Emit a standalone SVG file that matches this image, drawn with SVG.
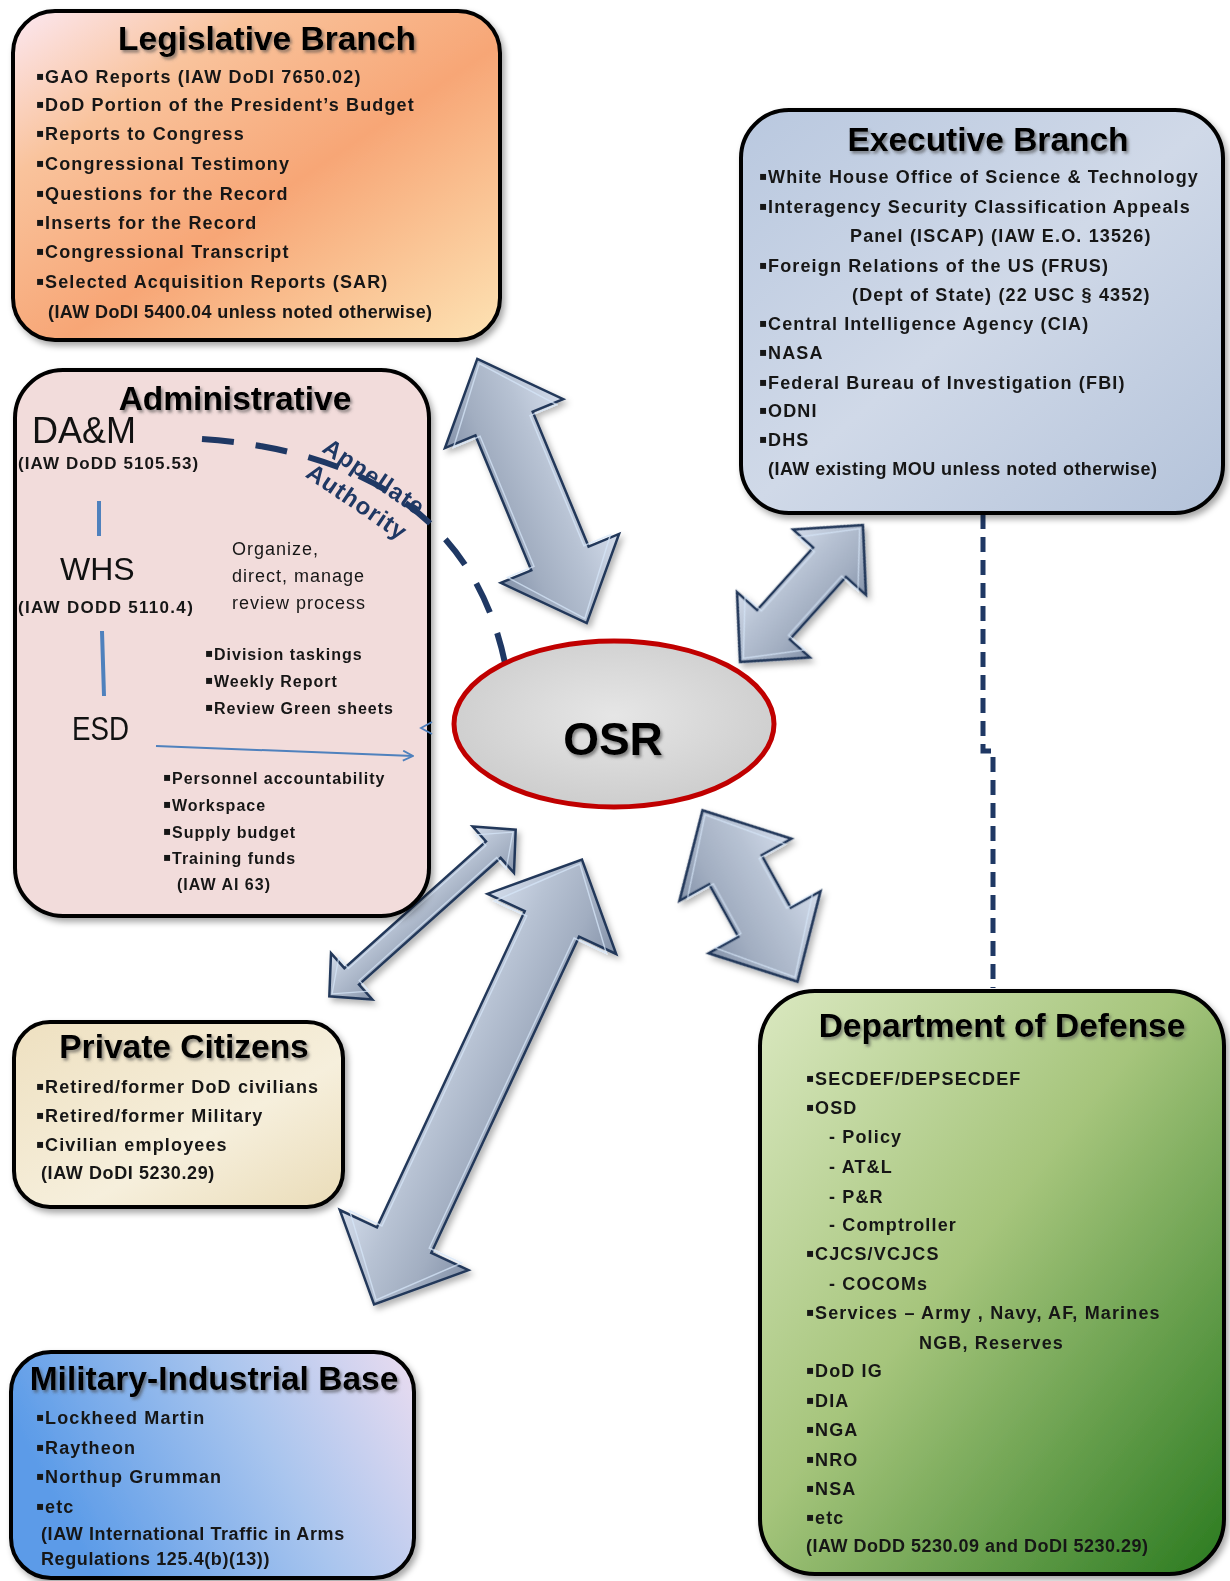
<svg xmlns="http://www.w3.org/2000/svg" width="1230" height="1581" viewBox="0 0 1230 1581">
  <defs>
    <style>
      .box { stroke: #000; stroke-width: 4; filter: url(#boxShadow); }
      .title { font-family: "Liberation Sans", Arial, sans-serif; font-weight: bold; font-size: 33.5px; text-anchor: middle; fill: #000; filter: url(#textShadow); }
      .it { font-family: "Liberation Sans", Arial, sans-serif; font-weight: bold; font-size: 18px; letter-spacing: 1.15px; fill: #161616; }
      .sm { font-family: "Liberation Sans", Arial, sans-serif; font-weight: bold; font-size: 16px; letter-spacing: 1px; fill: #161616; }
      .rg { font-family: "Liberation Sans", Arial, sans-serif; font-size: 18px; letter-spacing: 1px; fill: #161616; }
      .big { font-family: "Liberation Sans", Arial, sans-serif; font-size: 33px; fill: #111; }
      .bl { font-family: "DejaVu Sans", sans-serif; font-size: 12px; }
      .arrow { fill: url(#arrowFill); stroke: #23385a; stroke-width: 2.5; stroke-linejoin: miter; }
      .arrows { filter: url(#arrowShadow); }
      .bevel { fill: none; stroke: #d6e5f8; stroke-width: 1.6; opacity: 0.75; }
      .navyDash { fill: none; stroke: #1f3864; stroke-width: 6; }
      .blueLine { fill: none; stroke: #4f81bd; }
      .appl { font-family: "Liberation Sans", Arial, sans-serif; font-weight: bold; font-size: 24px; letter-spacing: 1px; fill: #1f3864; text-anchor: middle; }
    </style>
    <filter id="boxShadow" x="-10%" y="-10%" width="125%" height="125%">
      <feDropShadow dx="3" dy="4" stdDeviation="3" flood-color="#000" flood-opacity="0.35"/>
    </filter>
    <filter id="textShadow" x="-5%" y="-20%" width="115%" height="150%">
      <feDropShadow dx="2" dy="2.5" stdDeviation="1.5" flood-color="#444" flood-opacity="0.6"/>
    </filter>
    <filter id="arrowShadow" x="-20%" y="-20%" width="150%" height="150%">
      <feDropShadow dx="3" dy="4" stdDeviation="3" flood-color="#000" flood-opacity="0.3"/>
    </filter>
    <linearGradient id="legFill" x1="0" y1="0" x2="1" y2="1">
      <stop offset="0" stop-color="#fce8f2"/>
      <stop offset="0.25" stop-color="#f9c39c"/>
      <stop offset="0.55" stop-color="#f7a676"/>
      <stop offset="1" stop-color="#fde3b4"/>
    </linearGradient>
    <linearGradient id="exeFill" x1="0" y1="0" x2="1" y2="1">
      <stop offset="0" stop-color="#b9c8df"/>
      <stop offset="0.5" stop-color="#d0d9e8"/>
      <stop offset="1" stop-color="#b4c3da"/>
    </linearGradient>
    <linearGradient id="pcFill" x1="0" y1="0" x2="1" y2="1">
      <stop offset="0" stop-color="#eee0c0"/>
      <stop offset="0.6" stop-color="#f6efdc"/>
      <stop offset="1" stop-color="#eadcb8"/>
    </linearGradient>
    <linearGradient id="mibFill" x1="0" y1="0.3" x2="1" y2="0">
      <stop offset="0" stop-color="#5b9be8"/>
      <stop offset="0.55" stop-color="#a9c5ee"/>
      <stop offset="1" stop-color="#eadcf0"/>
    </linearGradient>
    <linearGradient id="dodFill" x1="0" y1="0" x2="1" y2="1">
      <stop offset="0" stop-color="#dae8c0"/>
      <stop offset="0.45" stop-color="#a6c57c"/>
      <stop offset="1" stop-color="#2a7a1f"/>
    </linearGradient>
    <radialGradient id="osrFill" cx="0.5" cy="0.45" r="0.6">
      <stop offset="0" stop-color="#e6e6e6"/>
      <stop offset="1" stop-color="#cbcbcb"/>
    </radialGradient>
    <linearGradient id="arrowFill" x1="0" y1="0" x2="0" y2="1">
      <stop offset="0" stop-color="#d3dceb"/>
      <stop offset="0.35" stop-color="#b7c2d3"/>
      <stop offset="0.7" stop-color="#a2aec1"/>
      <stop offset="1" stop-color="#8593aa"/>
    </linearGradient>
    <marker id="openHead" viewBox="0 0 12 12" refX="11" refY="6" markerWidth="12" markerHeight="12" markerUnits="userSpaceOnUse" orient="auto">
      <path d="M1,1 L11,6 L1,11" fill="none" stroke="#4f81bd" stroke-width="1.8"/>
    </marker>
  </defs>

  <rect width="1230" height="1581" fill="#fff"/>

  <!-- connectors: double-headed block arrows and dashed lines -->
  <g id="connectors">
    <g class="arrows">
      <g transform="translate(532,491) rotate(67.5)">
        <polygon class="arrow" points="-143,0 -73,-64 -73,-31 73,-31 73,-64 143,0 73,64 73,31 -73,31 -73,64"/>
        <polygon class="bevel" transform="scale(0.965,0.87)" points="-143,0 -73,-64 -73,-31 73,-31 73,-64 143,0 73,64 73,31 -73,31 -73,64"/>
      </g>
      <g transform="translate(801.5,593.5) rotate(-48.1)">
        <polygon class="arrow" points="-92,0 -42,-49 -42,-22 42,-22 42,-49 92,0 42,49 42,22 -42,22 -42,49"/>
        <polygon class="bevel" transform="scale(0.946,0.82)" points="-92,0 -42,-49 -42,-22 42,-22 42,-49 92,0 42,49 42,22 -42,22 -42,49"/>
      </g>
      <g transform="translate(422.5,913) rotate(-41.8)">
        <polygon class="arrow" points="-125,0 -95,-31 -95,-11 95,-11 95,-31 125,0 95,31 95,11 -95,11 -95,31"/>
        <polygon class="bevel" transform="scale(0.97,0.73)" points="-125,0 -95,-31 -95,-11 95,-11 95,-31 125,0 95,31 95,11 -95,11 -95,31"/>
      </g>
      <g transform="translate(478,1082) rotate(-64.95)">
        <polygon class="arrow" points="-245.5,0 -174.5,-71 -174.5,-30 174.5,-30 174.5,-71 245.5,0 174.5,71 174.5,30 -174.5,30 -174.5,71"/>
        <polygon class="bevel" transform="scale(0.98,0.87)" points="-245.5,0 -174.5,-71 -174.5,-30 174.5,-30 174.5,-71 245.5,0 174.5,71 174.5,30 -174.5,30 -174.5,71"/>
      </g>
      <g transform="translate(750,896) rotate(61)">
        <polygon class="arrow" points="-98,0 -30,-64 -30,-30 30,-30 30,-64 98,0 30,64 30,30 -30,30 -30,64"/>
        <polygon class="bevel" transform="scale(0.947,0.87)" points="-98,0 -30,-64 -30,-30 30,-30 30,-64 98,0 30,64 30,30 -30,30 -30,64"/>
      </g>
    </g>
    <!-- Executive to DoD dashed link -->
    <path class="navyDash" d="M983,514 V751 H993 V988" style="stroke-width:5px" stroke-dasharray="15 8"/>
  </g>

  <g id="legislative">
    <rect class="box" x="13" y="11" width="487" height="329" rx="42" fill="url(#legFill)"/>
    <text class="title" x="267" y="50">Legislative Branch</text>
    <text class="it" x="36" y="83"><tspan class="bl" dy="-3">▪</tspan><tspan x="45" dy="3">GAO Reports (IAW DoDI 7650.02)</tspan></text>
    <text class="it" x="36" y="111"><tspan class="bl" dy="-3">▪</tspan><tspan x="45" dy="3">DoD Portion of the President’s Budget</tspan></text>
    <text class="it" x="36" y="140"><tspan class="bl" dy="-3">▪</tspan><tspan x="45" dy="3">Reports to Congress</tspan></text>
    <text class="it" x="36" y="170"><tspan class="bl" dy="-3">▪</tspan><tspan x="45" dy="3">Congressional Testimony</tspan></text>
    <text class="it" x="36" y="200"><tspan class="bl" dy="-3">▪</tspan><tspan x="45" dy="3">Questions for the Record</tspan></text>
    <text class="it" x="36" y="229"><tspan class="bl" dy="-3">▪</tspan><tspan x="45" dy="3">Inserts for the Record</tspan></text>
    <text class="it" x="36" y="258"><tspan class="bl" dy="-3">▪</tspan><tspan x="45" dy="3">Congressional Transcript</tspan></text>
    <text class="it" x="36" y="288"><tspan class="bl" dy="-3">▪</tspan><tspan x="45" dy="3">Selected Acquisition Reports (SAR)</tspan></text>
    <text class="it" x="48" y="318" style="letter-spacing:0.4px">(IAW DoDI 5400.04 unless noted otherwise)</text>
  </g>

  <g id="executive">
    <rect class="box" x="741" y="110" width="482" height="403" rx="48" fill="url(#exeFill)"/>
    <text class="title" x="988" y="151">Executive Branch</text>
    <text class="it" x="759" y="183"><tspan class="bl" dy="-3">▪</tspan><tspan x="768" dy="3">White House Office of Science &amp; Technology</tspan></text>
    <text class="it" x="759" y="213"><tspan class="bl" dy="-3">▪</tspan><tspan x="768" dy="3">Interagency Security Classification Appeals</tspan></text>
    <text class="it" x="850" y="242">Panel (ISCAP) (IAW E.O. 13526)</text>
    <text class="it" x="759" y="272"><tspan class="bl" dy="-3">▪</tspan><tspan x="768" dy="3">Foreign Relations of the US (FRUS)</tspan></text>
    <text class="it" x="852" y="301">(Dept of State) (22 USC § 4352)</text>
    <text class="it" x="759" y="330"><tspan class="bl" dy="-3">▪</tspan><tspan x="768" dy="3">Central Intelligence Agency (CIA)</tspan></text>
    <text class="it" x="759" y="359"><tspan class="bl" dy="-3">▪</tspan><tspan x="768" dy="3">NASA</tspan></text>
    <text class="it" x="759" y="389"><tspan class="bl" dy="-3">▪</tspan><tspan x="768" dy="3">Federal Bureau of Investigation (FBI)</tspan></text>
    <text class="it" x="759" y="417"><tspan class="bl" dy="-3">▪</tspan><tspan x="768" dy="3">ODNI</tspan></text>
    <text class="it" x="759" y="446"><tspan class="bl" dy="-3">▪</tspan><tspan x="768" dy="3">DHS</tspan></text>
    <text class="it" x="768" y="475" style="letter-spacing:0.45px">(IAW existing MOU unless noted otherwise)</text>
  </g>

  <g id="administrative">
    <rect class="box" x="15" y="370" width="414" height="546" rx="48" fill="#f2dcdb"/>
    <text class="title" x="235" y="410">Administrative</text>
    <text class="big" x="32" y="443" style="font-size:36px">DA&amp;M</text>
    <text class="sm" x="18" y="469" style="font-size:17px;letter-spacing:1.1px">(IAW DoDD 5105.53)</text>
    <text class="big" x="60" y="580" style="font-size:32px">WHS</text>
    <text class="sm" x="18" y="613" style="font-size:17px;letter-spacing:1.3px">(IAW DODD 5110.4)</text>
    <text class="big" x="72" y="740" style="font-size:33px" textLength="57" lengthAdjust="spacingAndGlyphs">ESD</text>
    <line class="blueLine" x1="99" y1="501" x2="99" y2="536" stroke-width="4"/>
    <line class="blueLine" x1="102" y1="631" x2="104" y2="696" stroke-width="4"/>
    <text class="rg" x="232" y="555">Organize,</text>
    <text class="rg" x="232" y="582">direct, manage</text>
    <text class="rg" x="232" y="609">review process</text>
    <text class="sm" x="205" y="660"><tspan class="bl" dy="-3">▪</tspan><tspan x="214" dy="3">Division taskings</tspan></text>
    <text class="sm" x="205" y="687"><tspan class="bl" dy="-3">▪</tspan><tspan x="214" dy="3">Weekly Report</tspan></text>
    <text class="sm" x="205" y="714"><tspan class="bl" dy="-3">▪</tspan><tspan x="214" dy="3">Review Green sheets</tspan></text>
    <line class="blueLine" x1="156" y1="746" x2="413" y2="756" stroke-width="2" marker-end="url(#openHead)"/>
    <polyline class="blueLine" points="432,722 421,728 432,734" stroke-width="1.8"/>
    <text class="sm" x="163" y="784"><tspan class="bl" dy="-3">▪</tspan><tspan x="172" dy="3">Personnel accountability</tspan></text>
    <text class="sm" x="163" y="811"><tspan class="bl" dy="-3">▪</tspan><tspan x="172" dy="3">Workspace</tspan></text>
    <text class="sm" x="163" y="838"><tspan class="bl" dy="-3">▪</tspan><tspan x="172" dy="3">Supply budget</tspan></text>
    <text class="sm" x="163" y="864"><tspan class="bl" dy="-3">▪</tspan><tspan x="172" dy="3">Training funds</tspan></text>
    <text class="sm" x="177" y="890">(IAW AI 63)</text>
  </g>

  <!-- appellate authority link from DA&M to OSR -->
  <g id="appellate">
    <path class="navyDash" d="M202,439 C343,449 474,504 506,668" stroke-dasharray="32 22"/>
    <text class="appl" transform="translate(374,477) rotate(34)" y="8">Appellate</text>
    <text class="appl" transform="translate(357,502) rotate(34)" y="8">Authority</text>
  </g>

  <g id="osr">
    <ellipse cx="614" cy="724" rx="160" ry="83" fill="url(#osrFill)" stroke="#c00000" stroke-width="5"/>
    <text x="613" y="755" text-anchor="middle" font-family="Liberation Sans, Arial, sans-serif" font-weight="bold" font-size="46" fill="#000" filter="url(#textShadow)">OSR</text>
  </g>

  <g id="private-citizens">
    <rect class="box" x="14" y="1022" width="329" height="185" rx="36" fill="url(#pcFill)"/>
    <text class="title" x="184" y="1058">Private Citizens</text>
    <text class="it" x="36" y="1093"><tspan class="bl" dy="-3">▪</tspan><tspan x="45" dy="3">Retired/former DoD civilians</tspan></text>
    <text class="it" x="36" y="1122"><tspan class="bl" dy="-3">▪</tspan><tspan x="45" dy="3">Retired/former Military</tspan></text>
    <text class="it" x="36" y="1151"><tspan class="bl" dy="-3">▪</tspan><tspan x="45" dy="3">Civilian employees</tspan></text>
    <text class="it" x="41" y="1179" style="letter-spacing:0.6px">(IAW DoDI 5230.29)</text>
  </g>

  <g id="military-industrial-base">
    <rect class="box" x="11" y="1352" width="403" height="226" rx="40" fill="url(#mibFill)"/>
    <text class="title" x="214" y="1390">Military-Industrial Base</text>
    <text class="it" x="36" y="1424"><tspan class="bl" dy="-3">▪</tspan><tspan x="45" dy="3">Lockheed Martin</tspan></text>
    <text class="it" x="36" y="1454"><tspan class="bl" dy="-3">▪</tspan><tspan x="45" dy="3">Raytheon</tspan></text>
    <text class="it" x="36" y="1483"><tspan class="bl" dy="-3">▪</tspan><tspan x="45" dy="3">Northup Grumman</tspan></text>
    <text class="it" x="36" y="1513"><tspan class="bl" dy="-3">▪</tspan><tspan x="45" dy="3">etc</tspan></text>
    <text class="it" x="41" y="1540" style="letter-spacing:0.6px">(IAW International Traffic in Arms</text>
    <text class="it" x="41" y="1565" style="letter-spacing:0.6px">Regulations 125.4(b)(13))</text>
  </g>

  <g id="department-of-defense">
    <rect class="box" x="760" y="991" width="464" height="583" rx="55" fill="url(#dodFill)"/>
    <text class="title" x="1002" y="1037">Department of Defense</text>
    <text class="it" x="806" y="1085"><tspan class="bl" dy="-3">▪</tspan><tspan x="815" dy="3">SECDEF/DEPSECDEF</tspan></text>
    <text class="it" x="806" y="1114"><tspan class="bl" dy="-3">▪</tspan><tspan x="815" dy="3">OSD</tspan></text>
    <text class="it" x="829" y="1143">- Policy</text>
    <text class="it" x="829" y="1173">- AT&amp;L</text>
    <text class="it" x="829" y="1203">- P&amp;R</text>
    <text class="it" x="829" y="1231">- Comptroller</text>
    <text class="it" x="806" y="1260"><tspan class="bl" dy="-3">▪</tspan><tspan x="815" dy="3">CJCS/VCJCS</tspan></text>
    <text class="it" x="829" y="1290">- COCOMs</text>
    <text class="it" x="806" y="1319"><tspan class="bl" dy="-3">▪</tspan><tspan x="815" dy="3">Services – Army , Navy, AF, Marines</tspan></text>
    <text class="it" x="919" y="1349">NGB, Reserves</text>
    <text class="it" x="806" y="1377"><tspan class="bl" dy="-3">▪</tspan><tspan x="815" dy="3">DoD IG</tspan></text>
    <text class="it" x="806" y="1407"><tspan class="bl" dy="-3">▪</tspan><tspan x="815" dy="3">DIA</tspan></text>
    <text class="it" x="806" y="1436"><tspan class="bl" dy="-3">▪</tspan><tspan x="815" dy="3">NGA</tspan></text>
    <text class="it" x="806" y="1466"><tspan class="bl" dy="-3">▪</tspan><tspan x="815" dy="3">NRO</tspan></text>
    <text class="it" x="806" y="1495"><tspan class="bl" dy="-3">▪</tspan><tspan x="815" dy="3">NSA</tspan></text>
    <text class="it" x="806" y="1524"><tspan class="bl" dy="-3">▪</tspan><tspan x="815" dy="3">etc</tspan></text>
    <text class="it" x="806" y="1552" style="letter-spacing:0.5px">(IAW DoDD 5230.09 and DoDI 5230.29)</text>
  </g>
</svg>
